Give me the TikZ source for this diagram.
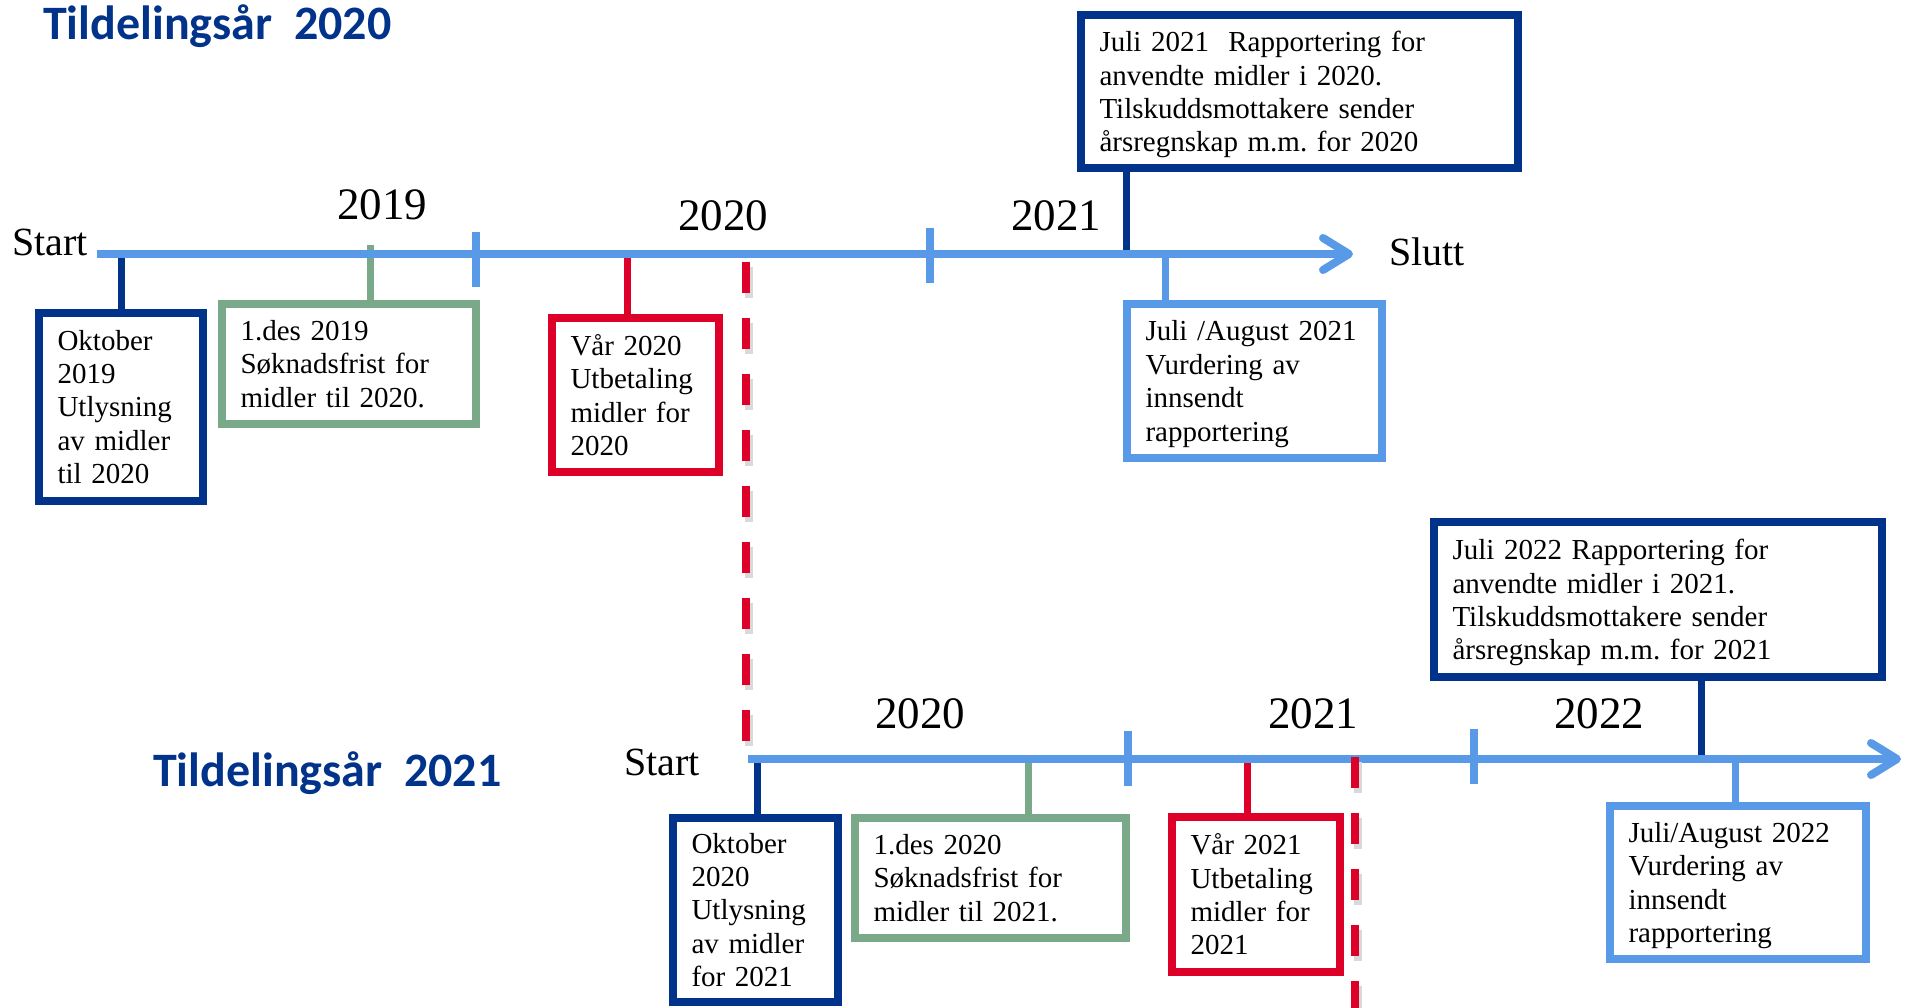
\documentclass[tikz,border=0pt]{standalone}
\usepackage{fontspec}
\setmainfont{Liberation Serif}
\newfontfamily\titlefont{Carlito}
\usetikzlibrary{arrows.meta}
\frenchspacing

\definecolor{navyline}{RGB}{0,51,137}
\definecolor{axisblue}{RGB}{88,153,232}
\definecolor{sagegreen}{RGB}{122,169,137}
\definecolor{alertred}{RGB}{221,0,40}

\newcommand\evfont{\fontsize{29}{33.4}\selectfont}
\newcommand\yrfont{\fontsize{45}{50}\selectfont}
\newcommand\termfont{\fontsize{40}{44}\selectfont}
\newcommand\headfont{\titlefont\bfseries\fontsize{48}{52}\selectfont}

\begin{document}
\begin{tikzpicture}[x=1pt,y=-1pt,
    timeline/.style = {line width=8pt,axisblue,-{Straight Barb[length=26pt,width=32pt,round]}},
    yeartick/.style = {line width=8pt,axisblue},
    stemline/.style = {line width=7pt},
    eventbox/.style = {draw,line width=8pt,fill=white,anchor=north west,align=left,
                       outer sep=0pt,inner xsep=18.5pt,inner ysep=0pt,font=\evfont},
    splitline/.style = {line width=8pt,alertred,dash pattern=on 31pt off 25pt},
    splitshadow/.style = {line width=8pt,black!15,dash pattern=on 31pt off 25pt},
    yearlabel/.style = {anchor=base,inner sep=0pt,font=\yrfont},
    termlabel/.style = {anchor=base west,inner sep=0pt,font=\termfont}]
\useasboundingbox (0,0) rectangle (1905,1007);

% titles
\node[anchor=base west,inner sep=0pt,font=\headfont,text=navyline] (head20) at (43,39) {Tildelingsår~ 2020};
\node[anchor=base west,inner sep=0pt,font=\headfont,text=navyline] (head21) at (153,786) {Tildelingsår~ 2021};

% timeline 2020
\coordinate (startA) at (97,254);
\coordinate (endA) at (1353,254);
\coordinate (tickA1) at (476,232);
\coordinate (tickA2) at (930,228);
\coordinate (sA1) at (121,254);
\coordinate (sA2) at (370,245);
\coordinate (sA3) at (627,254);
\coordinate (sA4) at (1126,254);
\coordinate (sA5) at (1165,254);

\node[eventbox,draw=navyline,text width=127pt,minimum height=188pt] (okt19) at (39,313)
  {Oktober\\2019\\Utlysning\\av midler\\til 2020};
\node[eventbox,draw=sagegreen,text width=217pt,minimum height=120pt] (des19) at (222,304)
  {1.des 2019\\Søknadsfrist for\\midler til 2020.};
\node[eventbox,draw=alertred,text width=130pt,minimum height=154pt] (var20) at (552,318)
  {Vår 2020\\Utbetaling\\midler for\\2020};
\node[eventbox,draw=navyline,text width=400pt,minimum height=153pt] (jul21) at (1081,15)
  {Juli 2021~ Rapportering for\\anvendte midler i 2020.\\Tilskuddsmottakere sender\\\smash{årsregnskap m.m. for 2020}};
\node[eventbox,draw=axisblue,text width=218pt,minimum height=154pt] (aug21) at (1127,304)
  {Juli /August 2021\\Vurdering av\\innsendt\\\smash{rapportering}};

\draw[stemline,navyline] (sA1) -- (sA1 |- okt19.north);
\draw[stemline,sagegreen] (sA2) -- (sA2 |- des19.north);
\draw[stemline,alertred] (sA3) -- (sA3 |- var20.north);
\draw[stemline,navyline] (sA4) -- (sA4 |- jul21.south);
\draw[stemline,axisblue] (sA5) -- (sA5 |- aug21.north);

\draw[timeline] (startA) -- (endA);
\draw[yeartick] (tickA1) -- ++(0,55);
\draw[yeartick] (tickA2) -- ++(0,55);

\node[termlabel] (startlblA) at (12,255) {Start};
\node[termlabel] (sluttlbl) at (1389,265) {Slutt};
\node[yearlabel] (y2019) at (382,219) {2019};
\node[yearlabel] (y2020a) at (723,230) {2020};
\node[yearlabel] (y2021a) at (1056,230) {2021};

% timeline 2021
\coordinate (startB) at (748,759);
\coordinate (endB) at (1901,759);
\coordinate (tickB1) at (1128,731);
\coordinate (tickB2) at (1474,729);
\coordinate (sB1) at (757,759);
\coordinate (sB2) at (1028,759);
\coordinate (sB3) at (1247,759);
\coordinate (sB4) at (1701,759);
\coordinate (sB5) at (1735,759);

\node[eventbox,draw=navyline,text width=128pt,minimum height=184pt] (okt20) at (673,818)
  {Oktober\\2020\\Utlysning\\av midler\\for 2021};
\node[eventbox,draw=sagegreen,text width=234pt,minimum height=120pt] (des20) at (855,818)
  {1.des 2020\\Søknadsfrist for\\midler til 2021.};
\node[eventbox,draw=alertred,text width=131pt,minimum height=155pt] (var21) at (1172,817)
  {Vår 2021\\Utbetaling\\midler for\\2021};
\node[eventbox,draw=navyline,text width=411pt,minimum height=155pt] (jul22) at (1434,522)
  {Juli 2022 Rapportering for\\anvendte midler i 2021.\\Tilskuddsmottakere sender\\\smash{årsregnskap m.m. for 2021}};
\node[eventbox,draw=axisblue,text width=219pt,minimum height=153pt] (aug22) at (1610,806)
  {Juli/August 2022\\Vurdering av\\innsendt\\\smash{rapportering}};

\draw[stemline,navyline] (sB1) -- (sB1 |- okt20.north);
\draw[stemline,sagegreen] (sB2) -- (sB2 |- des20.north);
\draw[stemline,alertred] (sB3) -- (sB3 |- var21.north);
\draw[stemline,navyline] (sB4) -- (sB4 |- jul22.south);
\draw[stemline,axisblue] (sB5) -- (sB5 |- aug22.north);

\draw[timeline] (startB) -- (endB);
\draw[yeartick] (tickB1) -- ++(0,55);
\draw[yeartick] (tickB2) -- ++(0,55);

\node[termlabel] (startlblB) at (624,775) {Start};
\node[yearlabel] (y2020b) at (920,728) {2020};
\node[yearlabel] (y2021b) at (1313,728) {2021};
\node[yearlabel] (y2022) at (1599,728) {2022};

% split lines between the years
\coordinate (cutA1) at (746,262);
\coordinate (cutA2) at (746,742);
\coordinate (cutB1) at (1355,757);
\coordinate (cutB2) at (1355,1010);
\draw[splitshadow] ([shift={(3,5)}]cutA1) -- ([shift={(3,5)}]cutA2);
\draw[splitshadow] ([shift={(3,5)}]cutB1) -- ([shift={(3,5)}]cutB2);
\draw[splitline] (cutA1) -- (cutA2);
\draw[splitline] (cutB1) -- (cutB2);
\end{tikzpicture}
\end{document}
